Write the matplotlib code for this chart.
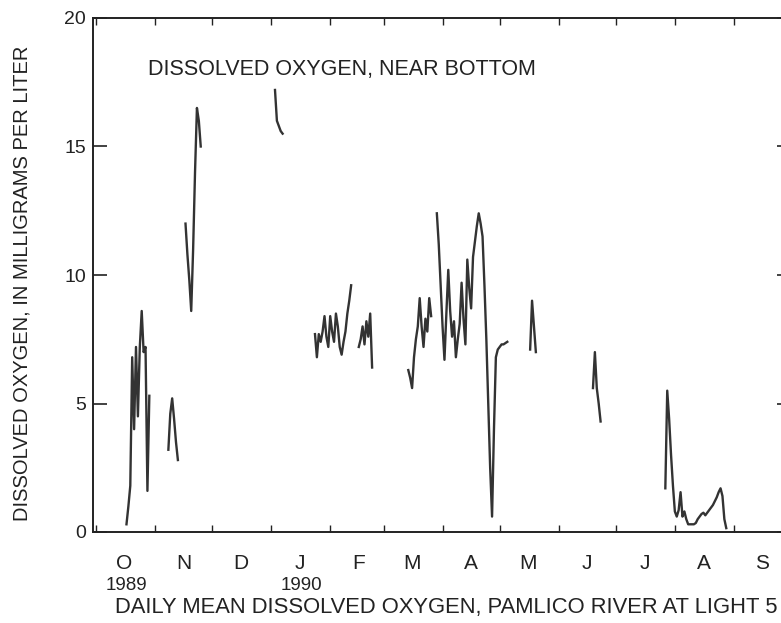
import matplotlib
matplotlib.use("Agg")
import matplotlib.pyplot as plt
import matplotlib.dates as mdates
import matplotlib.transforms as mtransforms
import pandas as pd

plt.rcParams['font.family'] = ['Liberation Sans', 'DejaVu Sans']

# daily mean dissolved oxygen near bottom, mg/L (gaps = missing record)
seg_starts = ["1989-10-17", "1989-11-08", "1989-11-17", "1990-01-03",
              "1990-01-24", "1990-02-16", "1990-03-14", "1990-03-29",
              "1990-05-17", "1990-06-19", "1990-07-27"]
seg_values = [
    [0.3, 1.0, 1.8, 6.8, 4.0, 7.2, 4.5, 7.2, 8.6, 7.0, 7.2, 1.6, 5.3],
    [3.2, 4.6, 5.2, 4.4, 3.5, 2.8],
    [12.0, 10.8, 9.8, 8.6, 11.0, 14.0, 16.5, 16.0, 15.0],
    [17.2, 16.0, 15.8, 15.6, 15.5],
    [7.7, 6.8, 7.7, 7.4, 7.8, 8.4, 7.6, 7.2, 8.4, 7.8, 7.4, 8.5, 8.0, 7.2,
     6.9, 7.4, 7.8, 8.5, 9.0, 9.6],
    [7.2, 7.5, 8.0, 7.3, 8.2, 7.6, 8.5, 6.4],
    [6.3, 6.0, 5.6, 6.8, 7.5, 8.0, 9.1, 8.0, 7.2, 8.3, 7.8, 9.1, 8.4],
    [12.4, 11.2, 9.6, 8.0, 6.7, 8.5, 10.2, 8.6, 7.6, 8.2, 6.8, 7.5, 8.1,
     9.7, 8.3, 7.3, 10.6, 9.5, 8.7, 10.7, 11.3, 11.9, 12.4, 12.0, 11.5,
     9.6, 7.5, 5.0, 2.5, 0.6, 4.0, 6.8, 7.1, 7.2, 7.3, 7.3, 7.35, 7.4],
    [7.1, 9.0, 8.0, 7.0],
    [5.6, 7.0, 5.6, 5.0, 4.3],
    [1.7, 5.5, 4.4, 3.0, 1.8, 0.8, 0.6, 0.85, 1.55, 0.6, 0.8, 0.5, 0.3,
     0.3, 0.3, 0.3, 0.35, 0.5, 0.6, 0.7, 0.75, 0.65, 0.75, 0.85, 0.95,
     1.05, 1.2, 1.35, 1.55, 1.7, 1.4, 0.5, 0.15],
]
y_ticks = [0, 5, 10, 15, 20]
year_labels = [("1989-10-17", "1989"), ("1990-01-17", "1990")]

fig = plt.figure(figsize=(7.81, 6.23), dpi=100)
ax = fig.add_axes([93/781, 91/623, 698/781, 514/623])

for start, vals in zip(seg_starts, seg_values):
    dates = pd.date_range(start, periods=len(vals), freq="D")
    ax.plot(dates, vals, color="#333333", lw=1.7)

ax.set_xlim(pd.Timestamp("1989-09-29 10:00"), pd.Timestamp("1990-10-01"))
ax.set_ylim(0, 20)

# month boundaries get ticks, labels sit mid-month
ax.xaxis.set_major_locator(mdates.MonthLocator(bymonthday=1))
ax.xaxis.set_major_formatter(plt.NullFormatter())
ax.xaxis.set_minor_locator(mdates.MonthLocator(bymonthday=16))
ax.xaxis.set_minor_formatter(plt.FuncFormatter(
    lambda v, p: mdates.num2date(v).strftime("%b")[0]))
ax.tick_params(axis="x", which="major", direction="in", length=5, width=1,
               top=True, bottom=True, color="#222")
ax.tick_params(axis="x", which="minor", length=0, pad=16, labelsize=15,
               labelcolor="#222")

ax.set_yticks(y_ticks)
ax.tick_params(axis="y", direction="in", length=10, width=1.2, right=True,
               labelsize=14, pad=5, labelcolor="#222", color="#222")

for sp in ax.spines.values():
    sp.set_linewidth(1.4)
    sp.set_color("#222")

trans = mtransforms.blended_transform_factory(ax.transData, fig.transFigure)
for d, lab in year_labels:
    ax.text(pd.Timestamp(d), 1 - 585/623, lab, transform=trans, ha="center",
            va="center", fontsize=13.5, color="#222")

ax.text(148/781, 1 - 70/623, "DISSOLVED OXYGEN, NEAR BOTTOM",
        transform=fig.transFigure, ha="left", va="center", fontsize=15.5,
        color="#222")
fig.text(446/781, 1 - 607/623,
         "DAILY MEAN DISSOLVED OXYGEN, PAMLICO RIVER AT LIGHT 5",
         ha="center", va="center", fontsize=15.8, color="#222")
fig.text(22/781, 1 - 283/623, "DISSOLVED OXYGEN, IN MILLIGRAMS PER LITER",
         rotation=90, ha="center", va="center", fontsize=14.5, color="#222")

fig.savefig("out.png", dpi=100)
